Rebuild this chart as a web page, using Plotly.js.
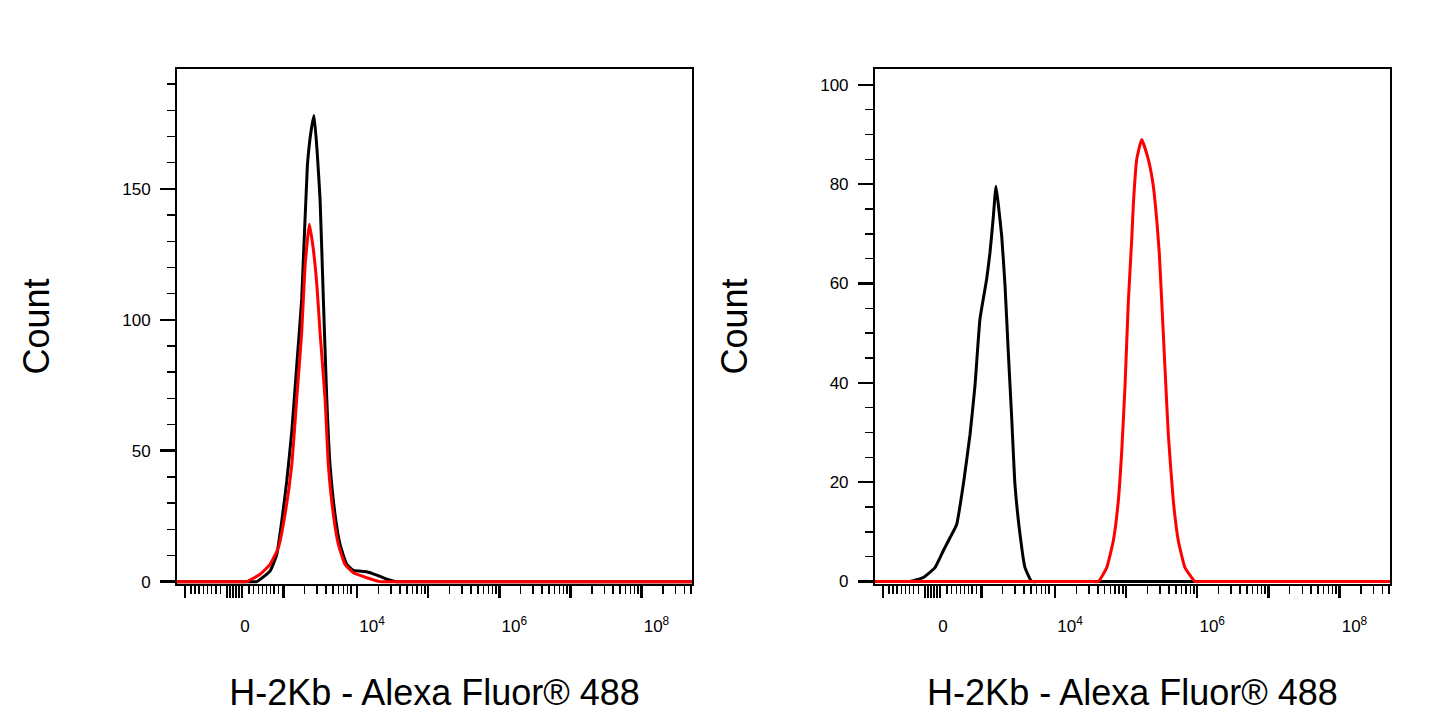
<!DOCTYPE html>
<html><head><meta charset="utf-8">
<script src="https://cdn.plot.ly/plotly-3.0.1.min.js"></script>
<style>html,body{margin:0;padding:0;background:#fff;}#chart{width:1445px;height:723px;}</style>
</head><body><div id="chart"></div>
<script>
// x values are positions on the biexponential display scale (1 unit = 1 decade above 10^3)
const leftBlackX = [1.40, 2.40, 2.50, 2.589, 2.776, 2.871, 2.941, 3.011, 3.082, 3.152, 3.222, 3.301, 3.353, 3.395, 3.437, 3.480, 3.526, 3.574, 3.620, 3.691, 3.761, 3.855, 3.948, 4.136, 4.277, 4.418, 4.558, 4.65, 4.75, 8.80];
const leftBlackY = [0, 0, 0, 0, 4, 10.4, 23, 38.3, 57.3, 82.6, 108, 158.7, 172, 178, 165, 146, 108, 70, 44.6, 25.6, 14.2, 6.6, 4.3, 3.8, 2.5, 0.9, 0, 0, 0, 0];
const leftRedX = [1.40, 2.30, 2.38, 2.449, 2.636, 2.776, 2.893, 2.987, 3.082, 3.152, 3.222, 3.269, 3.329, 3.380, 3.433, 3.480, 3.550, 3.596, 3.667, 3.737, 3.831, 3.948, 4.136, 4.323, 4.42, 4.52, 8.80];
const leftRedY = [0, 0, 0, 0, 2.8, 6.6, 12.9, 25.6, 44.6, 70, 95.3, 120.6, 136.5, 128, 114, 95, 70, 44.6, 25.6, 14.2, 6.6, 3.4, 1.5, 0, 0, 0, 0];
const rightBlackX = [1.40, 1.80, 1.88, 1.961, 2.148, 2.312, 2.429, 2.523, 2.617, 2.710, 2.804, 2.875, 2.945, 3.039, 3.086, 3.130, 3.170, 3.210, 3.250, 3.297, 3.343, 3.391, 3.437, 3.508, 3.578, 3.672, 3.77, 3.87, 8.80];
const rightBlackY = [0, 0, 0, 0, 0.8, 2.8, 6.2, 8.8, 11.5, 19.5, 29.5, 39.5, 52.9, 60.9, 66.3, 73, 79.6, 75, 69.6, 59.6, 46.2, 32.9, 19.5, 9.5, 2.8, 0, 0, 0, 0];
const rightRedX = [1.40, 4.45, 4.53, 4.609, 4.727, 4.820, 4.890, 4.938, 4.985, 5.031, 5.079, 5.103, 5.149, 5.219, 5.312, 5.383, 5.430, 5.467, 5.501, 5.547, 5.594, 5.664, 5.734, 5.828, 5.969, 6.06, 6.16, 8.80];
const rightRedY = [0, 0, 0, 0, 2.8, 8.2, 16.2, 26.2, 39.5, 56.3, 68.9, 76.3, 85, 89, 85, 79.6, 72.9, 66, 56.3, 42.9, 29.5, 16.2, 8.2, 2.8, 0, 0, 0, 0];

// axis ticks (display-scale positions)
const xMajorTicks = [1.581, 2.172, 2.214, 2.256, 2.298, 2.340, 2.383, 2.963, 4, 5, 6, 7, 8];
const xMajorLabels = ['', '', '0', '', '', '', '', '', '10<sup>4</sup>', '', '10<sup>6</sup>', '', '10<sup>8</sup>'];
const xLinearMinor = [1.665, 1.722, 1.778, 1.838, 1.895, 1.956, 2.013, 2.083, 2.481, 2.542, 2.612, 2.668, 2.730, 2.786, 2.833, 2.893];
const leftYTicks = [0, 50, 100, 150];
const rightYTicks = [0, 20, 40, 60, 80, 100];
const xTitle = 'H-2Kb - Alexa Fluor® 488';
const yTitle = 'Count';

const X_RANGE = [1.468, 8.711];
const xMinor = xLinearMinor.slice();
for (let k = 3; k <= 8; k++) for (let m = 2; m <= 9; m++) {
  const v = (k === 3 ? 2.963 : k) + Math.log10(m);
  if (v < X_RANGE[1]) xMinor.push(v);
}

const FONT = 'Liberation Sans, Arial, Helvetica, sans-serif';
function xaxis(domain, anchor) {
  return {
    domain: domain, anchor: anchor, range: X_RANGE, type: 'linear',
    showgrid: false, zeroline: false, showline: true, mirror: true, linecolor: '#000', linewidth: 2,
    ticks: 'outside', ticklen: 12, tickwidth: 2.5, tickcolor: '#000',
    tickmode: 'array', tickvals: xMajorTicks, ticktext: xMajorLabels,
    ticklabelshift: 15, ticklabelstandoff: 14,
    tickfont: {family: FONT, size: 17, color: '#000'},
    minor: {tickmode: 'array', tickvals: xMinor, ticks: 'outside', ticklen: 8, tickwidth: 1.5, tickcolor: '#000', showgrid: false},
    title: {text: xTitle, font: {family: FONT, size: 36, color: '#000'}, standoff: 44},
    automargin: false, fixedrange: true
  };
}
function yaxis(anchor, range, ticks, minorStep) {
  return {
    anchor: anchor, range: range, domain: [0, 1],
    showgrid: false, zeroline: false, showline: true, mirror: true, linecolor: '#000', linewidth: 2,
    ticks: 'outside', ticklen: 15, tickwidth: 2.5, tickcolor: '#000',
    tickmode: 'array', tickvals: ticks, ticktext: ticks.map(String),
    ticklabelstandoff: 6,
    tickfont: {family: FONT, size: 17, color: '#000'},
    minor: {tickmode: 'linear', tick0: 0, dtick: minorStep, ticks: 'outside', ticklen: 8, tickwidth: 1.5, tickcolor: '#000', showgrid: false},
    title: {text: yTitle, font: {family: FONT, size: 36, color: '#000'}, standoff: 62},
    automargin: false, fixedrange: true
  };
}

const line = (c) => ({color: c, width: 3, shape: 'spline', smoothing: 0.4});
const data = [
  {x: leftBlackX, y: leftBlackY, xaxis: 'x', yaxis: 'y', mode: 'lines', line: line('#000000'), hoverinfo: 'skip'},
  {x: leftRedX, y: leftRedY, xaxis: 'x', yaxis: 'y', mode: 'lines', line: line('#ff0000'), hoverinfo: 'skip'},
  {x: rightBlackX, y: rightBlackY, xaxis: 'x2', yaxis: 'y2', mode: 'lines', line: line('#000000'), hoverinfo: 'skip'},
  {x: rightRedX, y: rightRedY, xaxis: 'x2', yaxis: 'y2', mode: 'lines', line: line('#ff0000'), hoverinfo: 'skip'}
];
const layout = {
  width: 1445, height: 723,
  margin: {l: 177, r: 55, t: 69, b: 139, pad: 0},
  paper_bgcolor: '#fff', plot_bgcolor: '#fff',
  showlegend: false,
  xaxis: xaxis([0, 0.4246], 'y'),
  yaxis: yaxis('x', [-0.9, 195.8], leftYTicks, 10),
  xaxis2: xaxis([0.5754, 1], 'y2'),
  yaxis2: yaxis('x2', [-0.5, 103.2], rightYTicks, 5)
};
Plotly.newPlot('chart', data, layout, {displayModeBar: false, staticPlot: true});
</script>
</body></html>
